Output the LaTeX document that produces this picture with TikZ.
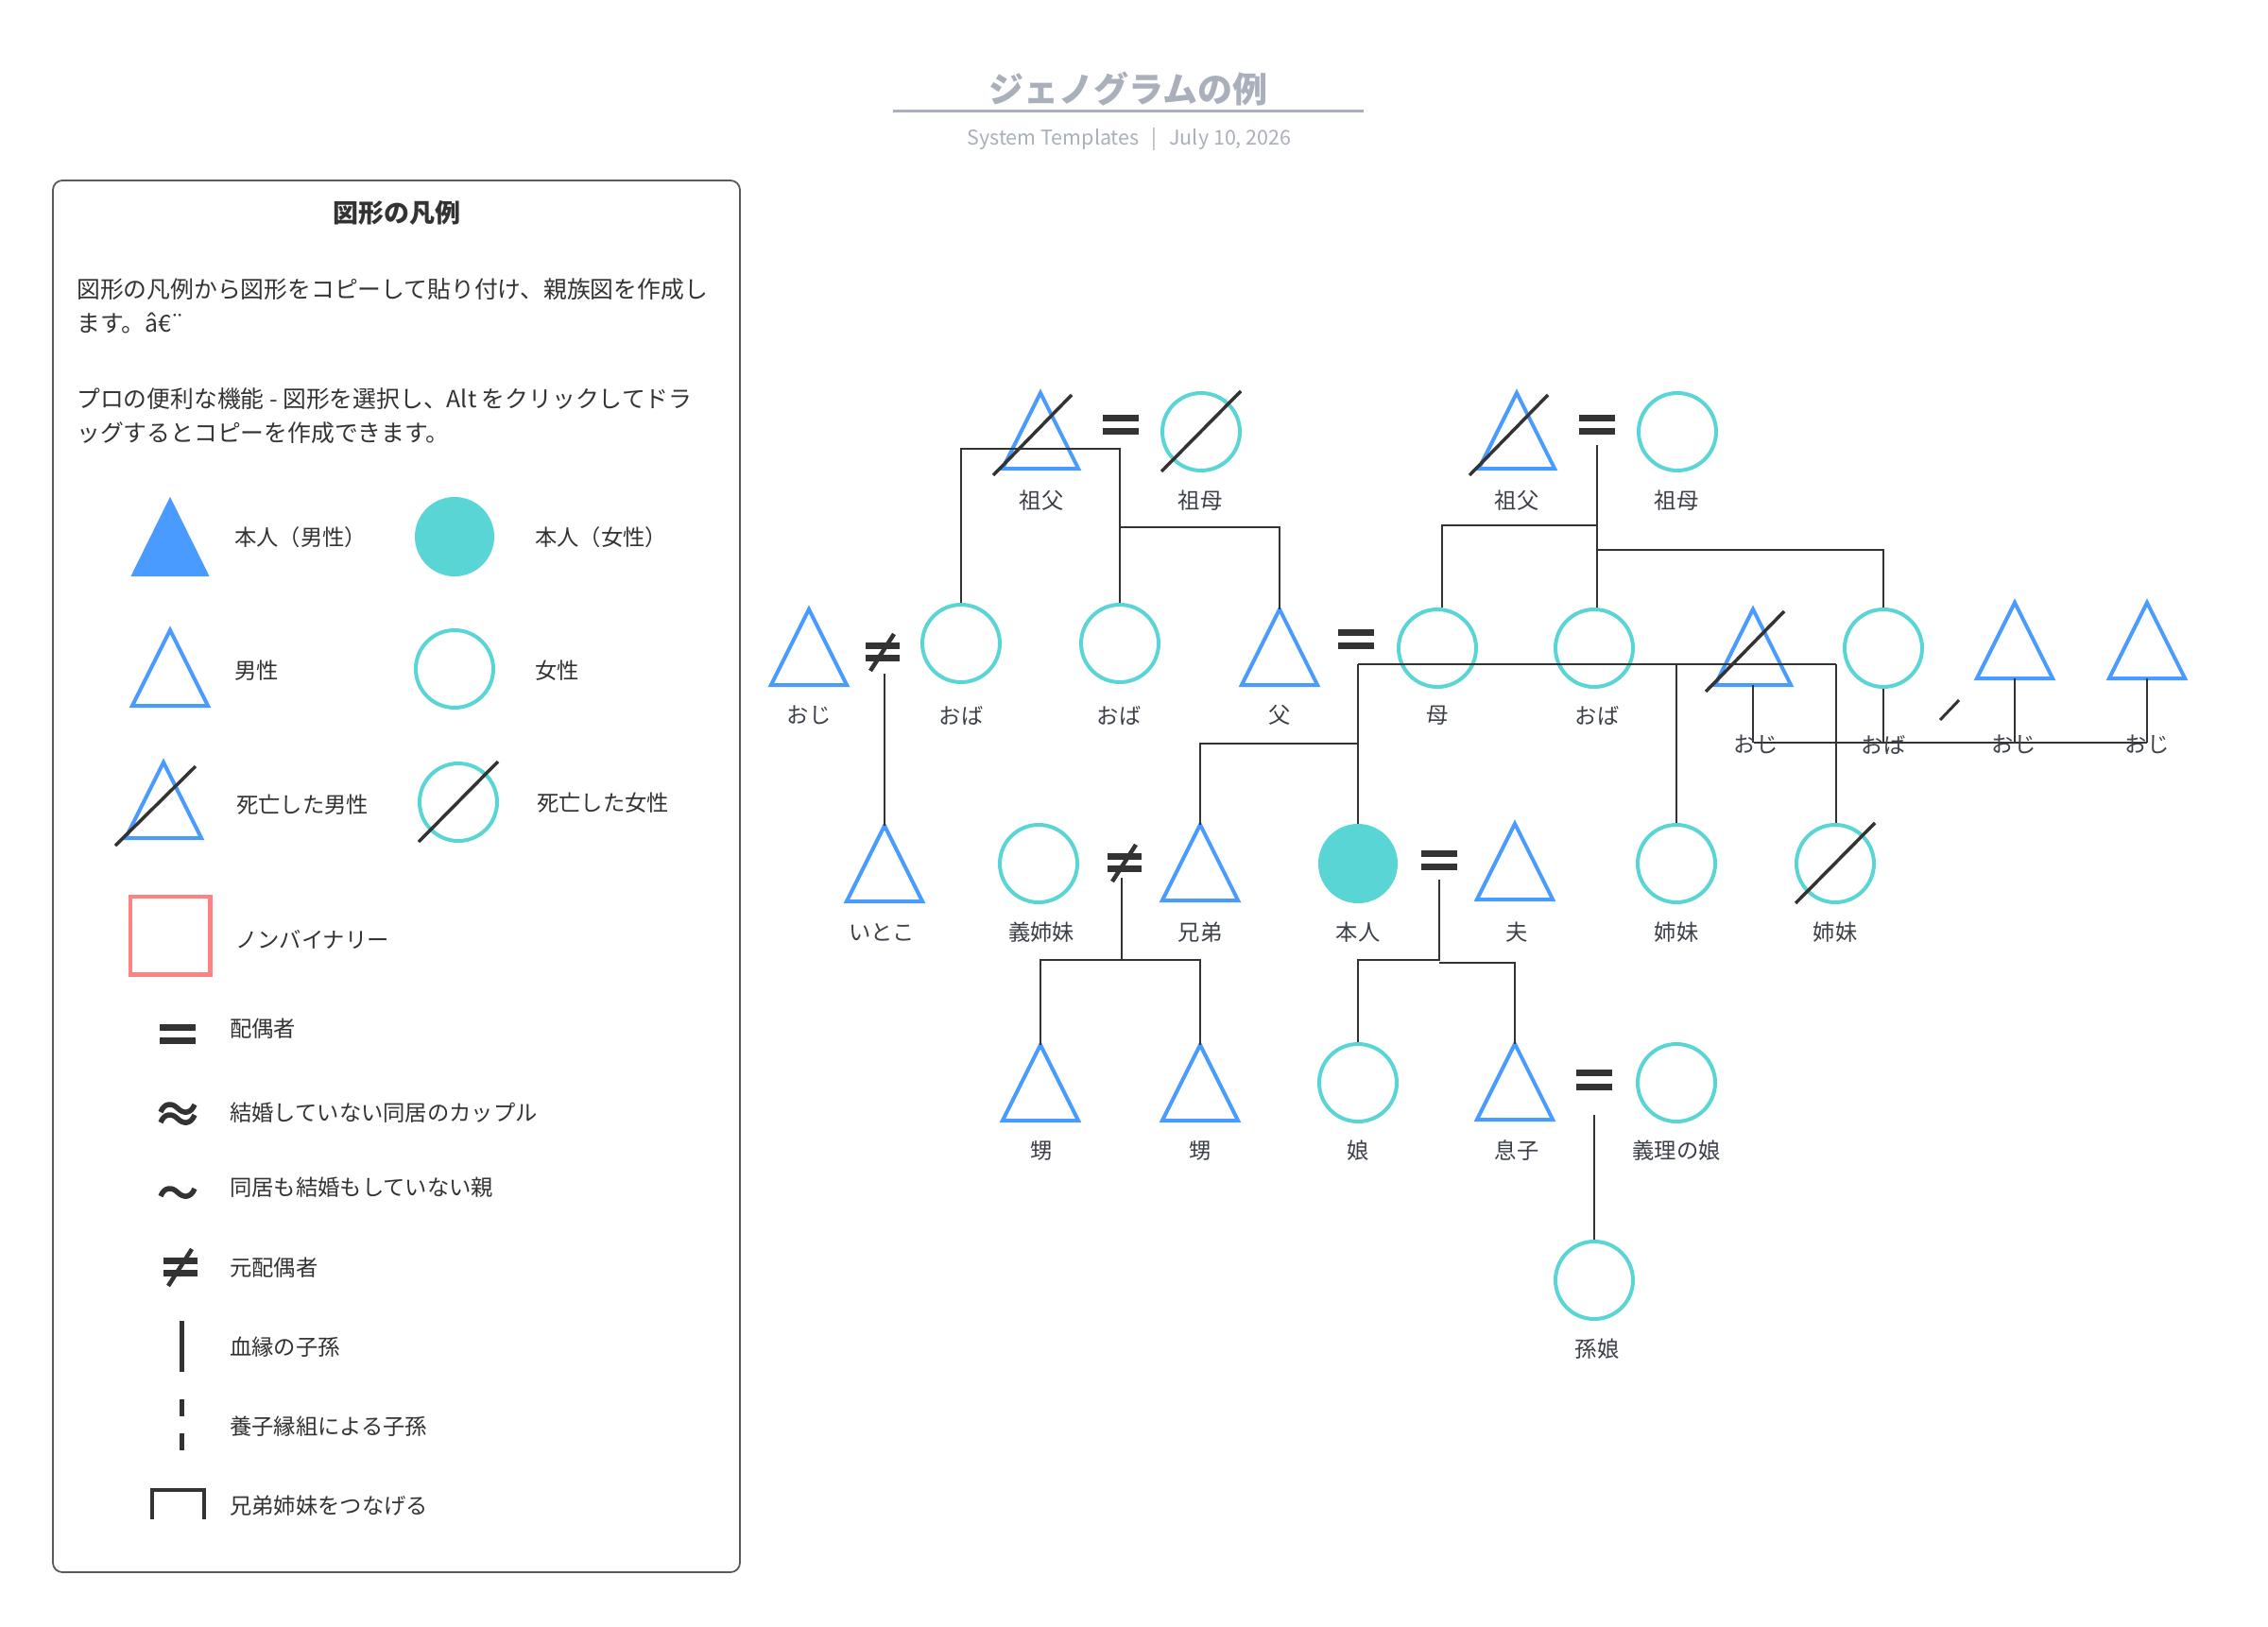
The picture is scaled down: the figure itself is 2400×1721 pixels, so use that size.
\documentclass[tikz,border=0pt]{standalone}
\usepackage{fontspec}
\setmainfont{Noto Sans CJK JP}
\usetikzlibrary{calc}
\definecolor{mblue}{HTML}{4A9BFF}
\definecolor{fteal}{HTML}{5AD5D6}
\definecolor{ink}{HTML}{333333}
\definecolor{lbltext}{HTML}{3C4048}
\definecolor{ttlgray}{HTML}{A9B0BB}
\definecolor{nbred}{HTML}{FF8282}
\definecolor{boxgray}{HTML}{5A5A5A}
\tikzset{
  tribox/.style={inner sep=0pt, minimum width=80pt, minimum height=80pt},
  triline/.style={draw=mblue, line width=4pt, line join=miter},
  circnode/.style={circle, draw=fteal, line width=4pt, minimum size=82pt, inner sep=0pt},
  selfcirc/.style={circle, fill=fteal, minimum size=84pt, inner sep=0pt},
  lbl/.style={text=lbltext, font=\fontsize{23.3}{23.3}\selectfont, inner sep=0pt},
  lgtext/.style={text=ink, font=\fontsize{23.3}{23.3}\selectfont, inner sep=0pt, anchor=west},
  conn/.style={draw=ink, line width=2.5pt},
  deadslash/.style={draw=ink, line width=3.5pt},
  signbox/.style={inner sep=0pt, minimum width=37pt, minimum height=21pt},
  wave/.style={draw=ink, line width=5.5pt},
}
\newcommand{\TriNode}[2]{%
  \node[tribox] (#1) at (#2) {};
  \draw[triline] (#1.north) -- (#1.south east) -- (#1.south west) -- cycle;}
\newcommand{\TriSlash}[1]{%
  \draw[deadslash] ($(#1.center)+(-50,47)$) -- ($(#1.center)+(33,-38)$);}
\newcommand{\CircSlash}[1]{%
  \draw[deadslash] ($(#1.center)+(-42,42)$) -- ($(#1.center)+(42,-43)$);}
\newcommand{\EqSign}[2]{%
  \node[signbox] (#1) at (#2) {};
  \fill[ink] (#1.north west) rectangle ($(#1.north east)+(0,7)$);
  \fill[ink] ($(#1.south west)+(0,-7)$) rectangle (#1.south east);}
\newcommand{\NeSign}[2]{%
  \node[signbox, minimum width=35pt, minimum height=20pt] (#1) at (#2) {};
  \fill[ink] (#1.north west) rectangle ($(#1.north east)+(0,7)$);
  \fill[ink] ($(#1.south west)+(0,-7)$) rectangle (#1.south east);
  \draw[ink, line width=4.5pt] ($(#1.center)+(-13,20)$) -- ($(#1.center)+(12,-19)$);}
\begin{document}
\begin{tikzpicture}[x=1pt,y=-1pt]
\fill[white] (0,0) rectangle (2400,1721);
\useasboundingbox (0,0) rectangle (2400,1721);

% ---------- title ----------
\node[font=\fontsize{37}{37}\selectfont\bfseries, text=ttlgray, inner sep=0pt] (title) at (1194,94) {ジェノグラムの例};
\coordinate (ulA) at (945,117);
\coordinate (ulB) at (1443,117);
\draw[ttlgray, line width=3pt] (ulA) -- (ulB);
\node[font=\fontsize{21.5}{21.5}\selectfont, text=ttlgray, inner sep=0pt] (subtitle) at (1195,147) {System Templates\hspace{13pt}|\hspace{13pt}July 10, 2026};

% ---------- legend ----------
\draw[boxgray, line width=1.8pt, rounded corners=10pt] (56,191) rectangle (783,1664);
\node[font=\fontsize{27}{27}\selectfont\bfseries, text=ink, inner sep=0pt] (lgtitle) at (420,225) {図形の凡例};
\node[anchor=west, align=left, font=\fontsize{24.8}{36}\selectfont, text=ink, inner sep=0pt] (paraA) at (81,324) {図形の凡例から図形をコピーして貼り付け、親族図を作成し\\ます。â€¨};
\node[anchor=west, align=left, font=\fontsize{24.8}{36}\selectfont, text=ink, inner sep=0pt] (paraB) at (81,440) {プロの便利な機能 - 図形を選択し、Alt をクリックしてドラ\\ッグするとコピーを作成できます。};

\node[tribox, minimum width=83pt, minimum height=84pt] (lgSelfM) at (180,568) {};
\fill[mblue] (lgSelfM.north) -- (lgSelfM.south east) -- (lgSelfM.south west) -- cycle;
\node[selfcirc] (lgSelfF) at (481,568) {};
\TriNode{lgMale}{180,707}
\node[circnode] (lgFemale) at (481,708) {};
\TriNode{lgDeadM}{173,847}
\draw[deadslash] ($(lgDeadM.center)+(-51,48)$) -- ($(lgDeadM.center)+(34,-36)$);
\node[circnode] (lgDeadF) at (485,849) {};
\CircSlash{lgDeadF}
\node[draw=nbred, line width=4.5pt, minimum width=84.5pt, minimum height=82.5pt, inner sep=0pt] (lgNB) at (180,990) {};

\node[lgtext] (tSelfM) at (248,569) {本人（男性）};
\node[lgtext] (tSelfF) at (566,569) {本人（女性）};
\node[lgtext] (tMale) at (248,710) {男性};
\node[lgtext] (tFemale) at (566,710) {女性};
\node[lgtext] (tDeadM) at (250,852) {死亡した男性};
\node[lgtext] (tDeadF) at (568,850) {死亡した女性};
\node[lgtext] (tNB) at (249,994) {ノンバイナリー};

\EqSign{lgEq}{188,1094.5}
\node[signbox, minimum width=38pt, minimum height=24pt] (lgApprox) at (188,1178) {};
\begin{scope}[shift={(lgApprox.center)}]
  \draw[wave] (-18,-1) .. controls (-14,-11) and (-6,-11) .. (0,-5) .. controls (6,1) and (14,1) .. (18,-9);
  \draw[wave] (-18,10) .. controls (-14,0) and (-6,0) .. (0,6) .. controls (6,12) and (14,12) .. (18,2);
\end{scope}
\node[signbox, minimum width=38pt, minimum height=16pt] (lgTilde) at (188,1262) {};
\begin{scope}[shift={(lgTilde.center)}]
  \draw[wave] (-18,4) .. controls (-14,-6) and (-6,-6) .. (0,0) .. controls (6,6) and (14,6) .. (18,-4);
\end{scope}
\NeSign{lgNe}{191,1341}
\coordinate (lgBloodA) at (192,1398);
\coordinate (lgBloodB) at (192,1452);
\draw[ink, line width=5pt] (lgBloodA) -- (lgBloodB);
\coordinate (lgAdA) at (192,1481);
\coordinate (lgAdB) at (192,1499);
\coordinate (lgAdC) at (192,1517);
\coordinate (lgAdD) at (192,1535);
\draw[ink, line width=5pt] (lgAdA) -- (lgAdB) (lgAdC) -- (lgAdD);
\coordinate (lgBrA) at (161,1608);
\coordinate (lgBrB) at (161,1577);
\coordinate (lgBrC) at (216,1577);
\coordinate (lgBrD) at (216,1608);
\draw[ink, line width=4.5pt] (lgBrA) -- (lgBrB) -- (lgBrC) -- (lgBrD);

\node[lgtext] (tEq) at (243,1089) {配偶者};
\node[lgtext] (tApprox) at (243,1178) {結婚していない同居のカップル};
\node[lgtext] (tTilde) at (243,1257) {同居も結婚もしていない親};
\node[lgtext] (tNe) at (243,1342) {元配偶者};
\node[lgtext] (tBlood) at (243,1426) {血縁の子孫};
\node[lgtext] (tAdopt) at (243,1510) {養子縁組による子孫};
\node[lgtext] (tSib) at (243,1594) {兄弟姉妹をつなげる};

% ---------- tree: generation 1 ----------
\TriNode{gfA}{1101,456}
\EqSign{eqA}{1186,449.5}
\node[circnode] (gmA) at (1271,457) {};
\TriNode{gfB}{1605,456}
\EqSign{eqB}{1690,449.5}
\node[circnode] (gmB) at (1775,457) {};

% ---------- generation 2 ----------
\TriNode{uncleA}{856,685}
\NeSign{neA}{934,690}
\node[circnode] (auntA) at (1017,681) {};
\node[circnode] (auntB) at (1185,681) {};
\TriNode{father}{1354,685}
\EqSign{eqC}{1435,676.5}
\node[circnode] (mother) at (1521,686) {};
\node[circnode] (auntC) at (1687,686) {};
\TriNode{uncleB}{1855,685}
\node[circnode] (auntD) at (1993,686) {};
\TriNode{uncleC}{2132,678}
\TriNode{uncleD}{2272,678}

% ---------- generation 3 ----------
\TriNode{cousin}{936,914}
\node[circnode] (sil) at (1099,914) {};
\NeSign{neB}{1190,913}
\TriNode{brother}{1270,913}
\node[selfcirc] (self) at (1437,914) {};
\EqSign{eqD}{1523,910.5}
\TriNode{husband}{1603,912}
\node[circnode] (sisA) at (1774,914) {};
\node[circnode] (sisB) at (1942,914) {};

% ---------- generation 4/5 ----------
\TriNode{nephA}{1101,1146}
\TriNode{nephB}{1270,1146}
\node[circnode] (daughter) at (1437,1146) {};
\TriNode{son}{1603,1145}
\EqSign{eqE}{1687,1143}
\node[circnode] (dil) at (1774,1146) {};
\node[circnode] (gd) at (1687,1355) {};

% ---------- connectors ----------
\coordinate (jB) at (1185,475);
\coordinate (jC) at (1185,558);
\draw[conn] (auntA.north) |- (jB) -- (auntB.north);
\draw[conn] (jC) -| (father.north);

\coordinate (jE) at (1690,471);
\coordinate (jF) at (1690,556);
\coordinate (jG) at (1526,556);
\coordinate (jH) at (1690,582);
\draw[conn] (jE) -- (jE |- auntC.north);
\draw[conn] (jF) -- (jG) -- (jG |- mother.north);
\draw[conn] (jH) -| (auntD.north);

\coordinate (sA) at (1437,703);
\coordinate (sB) at (1943,703);
\coordinate (sC) at (1437,787);
\draw[conn] (sA) -- (sB);
\draw[conn] (sA) -- (self.north);
\draw[conn] (sC) -| (brother.north);
\draw[conn] (sisA.north |- sA) -- (sisA.north);
\draw[conn] (sB) -- (sB |- sisB.north);

\coordinate (uA) at (1856,786);
\coordinate (uB) at (2272,786);
\draw[conn] (uncleB.south) -- (uncleB.south |- uA);
\draw[conn] (auntD.south) -- (auntD.south |- uA);
\draw[conn] (uncleC.south) -- (uncleC.south |- uA);
\draw[conn] (uncleD.south) -- (uncleD.south |- uA);
\draw[conn] (uA) -- (uB);
\coordinate (strayA) at (2053,762);
\coordinate (strayB) at (2073,741);
\draw[ink, line width=3pt] (strayA) -- (strayB);

\coordinate (cuA) at (936,713);
\draw[conn] (cuA) -- (cousin.north);

\coordinate (nA) at (1187,929);
\coordinate (nB) at (1187,1016);
\draw[conn] (nA) -- (nB);
\draw[conn] (nephA.north) |- (nB) -| (nephB.north);

\coordinate (cA) at (1523,931);
\coordinate (cB) at (1523,1016);
\coordinate (cC) at (1523,1019);
\draw[conn] (cA) -- (cB) -| (daughter.north);
\draw[conn] (cC) -| (son.north);

\coordinate (gA) at (1687,1180);
\draw[conn] (gA) -- (gd.north);

% ---------- deceased slashes ----------
\TriSlash{gfA}
\CircSlash{gmA}
\TriSlash{gfB}
\TriSlash{uncleB}
\CircSlash{sisB}

% ---------- labels ----------
\node[lbl] (lgfA) at (1102,530) {祖父};
\node[lbl] (lgmA) at (1270,530) {祖母};
\node[lbl] (lgfB) at (1605,530) {祖父};
\node[lbl] (lgmB) at (1774,530) {祖母};
\node[lbl] (luncleA) at (856,757) {おじ};
\node[lbl] (launtA) at (1017,757) {おば};
\node[lbl] (launtB) at (1184,757) {おば};
\node[lbl] (lfather) at (1354,757) {父};
\node[lbl] (lmother) at (1521,757) {母};
\node[lbl] (launtC) at (1690,757) {おば};
\node[lbl] (luncleB) at (1858,788) {おじ};
\node[lbl] (launtD) at (1993,788) {おば};
\node[lbl] (luncleC) at (2131,788) {おじ};
\node[lbl] (luncleD) at (2272,788) {おじ};
\node[lbl] (lcousin) at (933,987) {いとこ};
\node[lbl] (lsil) at (1102,987) {義姉妹};
\node[lbl] (lbrother) at (1270,987) {兄弟};
\node[lbl] (lself) at (1437,987) {本人};
\node[lbl] (lhusband) at (1605,987) {夫};
\node[lbl] (lsisA) at (1774,987) {姉妹};
\node[lbl] (lsisB) at (1942,987) {姉妹};
\node[lbl] (lnephA) at (1102,1218) {甥};
\node[lbl] (lnephB) at (1270,1218) {甥};
\node[lbl] (ldaughter) at (1437,1218) {娘};
\node[lbl] (lson) at (1605,1218) {息子};
\node[lbl] (ldil) at (1774,1218) {義理の娘};
\node[lbl] (lgd) at (1690,1428) {孫娘};
\end{tikzpicture}
\end{document}
